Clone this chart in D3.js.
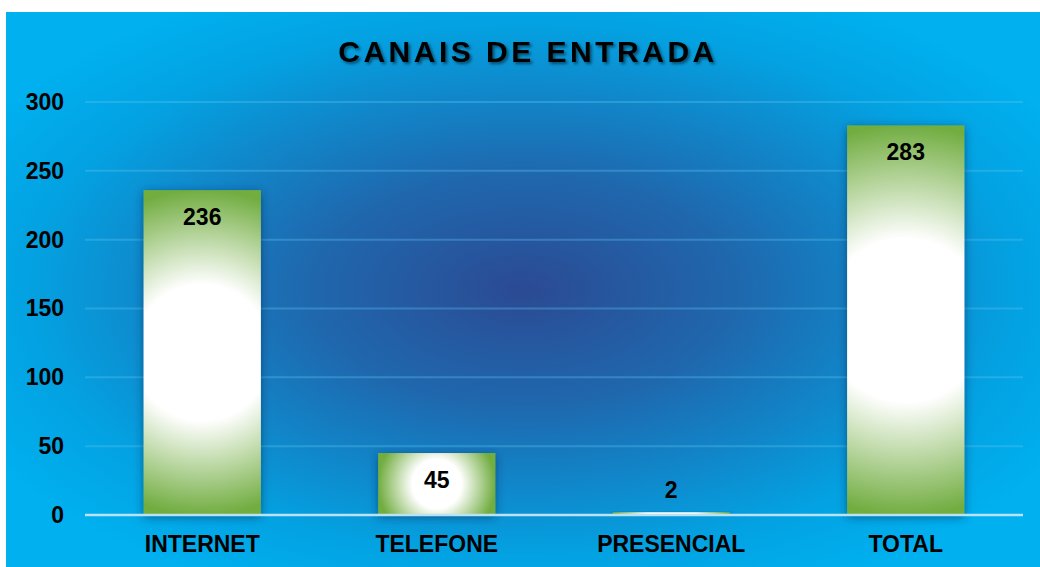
<!DOCTYPE html>
<html lang="en">
<head>
    <meta charset="utf-8">
    <script src="https://d3js.org/d3.v7.min.js"></script>
    <style>
        body { margin: 0; background: #fff; }
        svg { display: block; font-family: "Liberation Sans", Arial, sans-serif; }
    </style>
</head>
<body>
<script>
    // chart data
    const categories = ["INTERNET", "TELEFONE", "PRESENCIAL", "TOTAL"];
    const values = [236, 45, 2, 283];
    const yTicks = [0, 50, 100, 150, 200, 250, 300];
    const title = "CANAIS DE ENTRADA";

    const width = 1040, height = 567;
    const plot = { left: 85, right: 1023, top: 102, bottom: 515 };
    const font = "Liberation Sans, Arial, sans-serif";

    const svg = d3.select("body").append("svg")
        .attr("width", width)
        .attr("height", height);

    const defs = svg.append("defs");

    // background gradient: dark blue centre, light blue edges
    const bg = defs.append("radialGradient").attr("id", "bg")
        .attr("cx", "0.5").attr("cy", "0.5").attr("r", "0.6");
    bg.append("stop").attr("offset", "0").attr("stop-color", "#2b4a93");
    bg.append("stop").attr("offset", "0.35").attr("stop-color", "#1f68ae");
    bg.append("stop").attr("offset", "0.8").attr("stop-color", "#03a2e2");
    bg.append("stop").attr("offset", "1").attr("stop-color", "#00b0ef");

    const shadow = defs.append("filter").attr("id", "shadow")
        .attr("x", "-30%").attr("y", "-10%").attr("width", "160%").attr("height", "130%");
    shadow.append("feDropShadow").attr("dx", 0).attr("dy", 2).attr("stdDeviation", 5)
        .attr("flood-color", "#0a2a55").attr("flood-opacity", 0.6);

    const textShadow = defs.append("filter").attr("id", "tshadow");
    textShadow.append("feDropShadow").attr("dx", 2).attr("dy", 2).attr("stdDeviation", 1.5)
        .attr("flood-color", "#000").attr("flood-opacity", 0.5);

    svg.append("rect")
        .attr("x", 6).attr("y", 12)
        .attr("width", width - 6).attr("height", height - 12)
        .attr("fill", "url(#bg)");

    // scales
    const x = d3.scaleBand()
        .domain(categories)
        .range([plot.left, plot.right])
        .paddingInner(0.5).paddingOuter(0.25);
    const y = d3.scaleLinear()
        .domain([0, 300])
        .range([plot.bottom, plot.top]);

    // one glow gradient per bar: white in the middle, green towards the edges
    values.forEach((v, i) => {
        const w = x.bandwidth(), h = y(0) - y(v);
        const g = defs.append("radialGradient").attr("id", "bar" + i)
            .attr("gradientUnits", "userSpaceOnUse")
            .attr("cx", x(categories[i]) + w / 2)
            .attr("cy", y(v) + h / 2)
            .attr("r", Math.max(w, h) / 2);
        g.append("stop").attr("offset", "0").attr("stop-color", "#ffffff");
        g.append("stop").attr("offset", "0.42").attr("stop-color", "#ffffff");
        g.append("stop").attr("offset", "1").attr("stop-color", "#72ad41");
    });

    // gridlines
    svg.append("g").selectAll("line")
        .data(yTicks.filter(d => d > 0))
        .join("line")
        .attr("x1", plot.left).attr("x2", plot.right)
        .attr("y1", d => y(d)).attr("y2", d => y(d))
        .attr("stroke", "#5cc4f0").attr("stroke-opacity", 0.35)
        .attr("stroke-width", 2);

    // y axis labels
    const yAxis = svg.append("g")
        .attr("transform", `translate(${plot.left - 21},0)`)
        .call(d3.axisLeft(y).tickValues(yTicks).tickSize(0).tickPadding(0));
    yAxis.select(".domain").remove();
    yAxis.selectAll("text")
        .attr("font-size", 23).attr("font-weight", "bold")
        .attr("fill", "#000").attr("font-family", font);

    // bars
    svg.append("g").selectAll("rect")
        .data(values)
        .join("rect")
        .attr("x", (d, i) => x(categories[i]))
        .attr("y", d => y(d))
        .attr("width", x.bandwidth())
        .attr("height", d => y(0) - y(d))
        .attr("fill", (d, i) => `url(#bar${i})`)
        .attr("filter", "url(#shadow)");

    // baseline
    svg.append("line")
        .attr("x1", plot.left).attr("x2", plot.right)
        .attr("y1", y(0)).attr("y2", y(0))
        .attr("stroke", "#b9e3f5").attr("stroke-width", 2.5);

    // value labels
    svg.append("g").selectAll("text")
        .data(values)
        .join("text")
        .attr("x", (d, i) => x(categories[i]) + x.bandwidth() / 2)
        .attr("y", d => y(0) - y(d) > 40 ? y(d) + 35 : y(d) - 14)
        .attr("text-anchor", "middle")
        .attr("font-size", 23).attr("font-weight", "bold")
        .attr("fill", "#000")
        .text(d => d);

    // category labels
    const xAxis = svg.append("g")
        .attr("transform", `translate(0,${plot.bottom + 37})`)
        .call(d3.axisBottom(x).tickSize(0).tickPadding(0));
    xAxis.select(".domain").remove();
    xAxis.selectAll("text")
        .attr("dy", 0)
        .attr("font-size", 23).attr("font-weight", "bold")
        .attr("fill", "#000").attr("font-family", font);

    // title
    svg.append("text")
        .attr("x", 528).attr("y", 62)
        .attr("text-anchor", "middle")
        .attr("font-size", 30).attr("font-weight", "bold")
        .attr("letter-spacing", 3.5)
        .attr("fill", "#000")
        .attr("filter", "url(#tshadow)")
        .text(title);
</script>
</body>
</html>
